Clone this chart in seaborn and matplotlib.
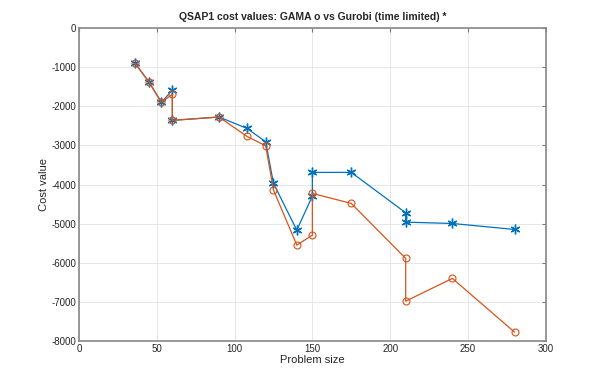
import numpy as np
import pandas as pd
import matplotlib
matplotlib.use("Agg")
import matplotlib.pyplot as plt
import seaborn as sns

# problem sizes (shared by both solvers)
sizes = [36, 45, 53, 60, 60, 90, 108, 120, 125, 140, 150, 150, 175, 210, 210, 240, 280]
# Gurobi (time limited), '*' markers
gurobi_cost = [-900, -1380, -1900, -1585, -2360, -2275, -2566, -2907, -3970, -5166,
               -4297, -3690, -3690, -4723, -4962, -4996, -5149]
# GAMA, 'o' markers
gama_cost = [-900, -1380, -1900, -1695, -2360, -2275, -2770, -3010, -4140, -5550,
             -5294, -4228, -4483, -5890, -6982, -6400, -7775]

sns.set_style("white")
plt.rcParams['font.family'] = ['Liberation Sans', 'DejaVu Sans']
plt.rcParams['axes.unicode_minus'] = False

blue = '#0072BD'
orange = '#D95319'

df = pd.DataFrame({'size': sizes, 'gurobi': gurobi_cost, 'gama': gama_cost})

fig = plt.figure(figsize=(6.03, 3.84), dpi=100)
ax = fig.add_axes([0.131, 0.112, 0.774, 0.815])

sns.lineplot(data=df, x='size', y='gurobi', sort=False, estimator=None,
             color=blue, lw=0.9, marker=(6, 2, 0), markersize=7,
             markeredgecolor=blue, markeredgewidth=1.0, ax=ax)
sns.lineplot(data=df, x='size', y='gama', sort=False, estimator=None,
             color=orange, lw=0.9, marker='o', markersize=5, markerfacecolor='none',
             markeredgecolor=orange, markeredgewidth=0.8, ax=ax)

ax.set_xlim(0, 300)
ax.set_ylim(-8000, 0)
ax.set_xticks(np.arange(0, 301, 50))
ax.set_yticks(np.arange(-8000, 1, 1000))
ax.grid(True, color='#e3e3e3', lw=0.6)
ax.tick_params(direction='in', length=3, labelsize=7, color='#777777',
               top=True, right=True, pad=2)
for s in ax.spines.values():
    s.set_color('#888888')
    s.set_linewidth(1.2)

ax.set_xlabel('Problem size', fontsize=8, labelpad=1)
ax.set_ylabel('Cost value', fontsize=8, labelpad=2)
ax.set_title('QSAP1 cost values: GAMA o vs Gurobi (time limited) *', fontsize=7.5,
             fontweight='bold', pad=6)

fig.savefig('out.png', dpi=100)
